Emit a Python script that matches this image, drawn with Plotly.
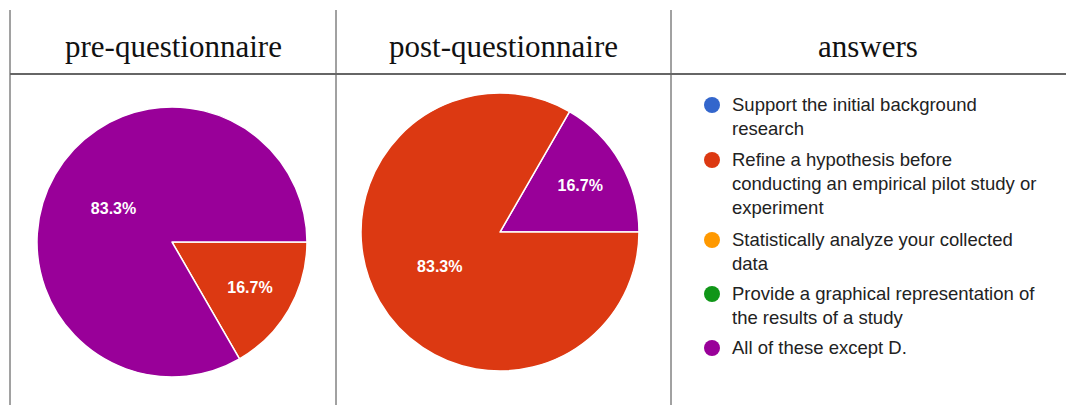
import plotly.graph_objects as go

answers = [
    "Support the initial background<br>research",
    "Refine a hypothesis before<br>conducting an empirical pilot study or<br>experiment",
    "Statistically analyze your collected<br>data",
    "Provide a graphical representation of<br>the results of a study",
    "All of these except D.",
]
answer_colors = ["#3366cc", "#dc3912", "#ff9900", "#109618", "#990099"]

pre_labels = ["Refine", "All"]
pre_values = [1, 5]
pre_colors = ["#dc3912", "#990099"]

post_labels = ["All", "Refine"]
post_values = [1, 5]
post_colors = ["#990099", "#dc3912"]

headers = ["pre-questionnaire", "post-questionnaire", "answers"]

W, H = 1066, 405

def px(x):
    return x / W

def py(y):
    return 1 - y / H

fig = go.Figure()

txtfont = dict(family="Liberation Sans, Arial", size=16, color="white", weight="bold")

fig.add_trace(go.Pie(
    labels=pre_labels, values=pre_values, sort=False, direction="clockwise",
    rotation=90, marker=dict(colors=pre_colors, line=dict(color="white", width=1.5)),
    texttemplate="%{percent:.1%}", textposition="inside", insidetextorientation="horizontal",
    textfont=txtfont, showlegend=False, hoverinfo="label+percent",
    domain=dict(x=[px(37), px(307)], y=[py(377), py(107)]),
))
fig.add_trace(go.Pie(
    labels=post_labels, values=post_values, sort=False, direction="clockwise",
    rotation=30, marker=dict(colors=post_colors, line=dict(color="white", width=1.5)),
    texttemplate="%{percent:.1%}", textposition="inside", insidetextorientation="horizontal",
    textfont=txtfont, showlegend=False, hoverinfo="label+percent",
    domain=dict(x=[px(361), px(639)], y=[py(371), py(93)]),
))

shapes = []
line_col = "#444444"
for x in [10, 336, 671]:
    shapes.append(dict(type="line", xref="paper", yref="paper",
                       x0=px(x), x1=px(x), y0=py(10), y1=py(405),
                       line=dict(color=line_col, width=1)))
shapes.append(dict(type="line", xref="paper", yref="paper",
                   x0=px(10), x1=px(1066), y0=py(74), y1=py(74),
                   line=dict(color="#666666", width=2)))

annotations = []
for h, cx in zip(headers, [173, 503, 868]):
    annotations.append(dict(text=h, x=px(cx), y=py(46), xref="paper", yref="paper",
                            showarrow=False, xanchor="center", yanchor="middle",
                            font=dict(family="Liberation Serif, serif", size=31, color="#111")))

legend_y = [105, 160, 240, 294, 348]
for lab, col, yy in zip(answers, answer_colors, legend_y):
    r = 8
    shapes.append(dict(type="circle", xref="paper", yref="paper",
                       x0=px(712 - r), x1=px(712 + r), y0=py(yy + r), y1=py(yy - r),
                       fillcolor=col, line=dict(color=col, width=0)))
    annotations.append(dict(text=lab, x=px(730), y=py(yy - 13), xref="paper", yref="paper",
                            showarrow=False, xanchor="left", yanchor="top", align="left",
                            font=dict(family="Liberation Sans, Arial", size=18.5, color="#222")))

fig.update_layout(
    width=W, height=H, margin=dict(l=0, r=0, t=0, b=0),
    paper_bgcolor="white", plot_bgcolor="white",
    shapes=shapes, annotations=annotations,
)

fig.write_html("out.html")
